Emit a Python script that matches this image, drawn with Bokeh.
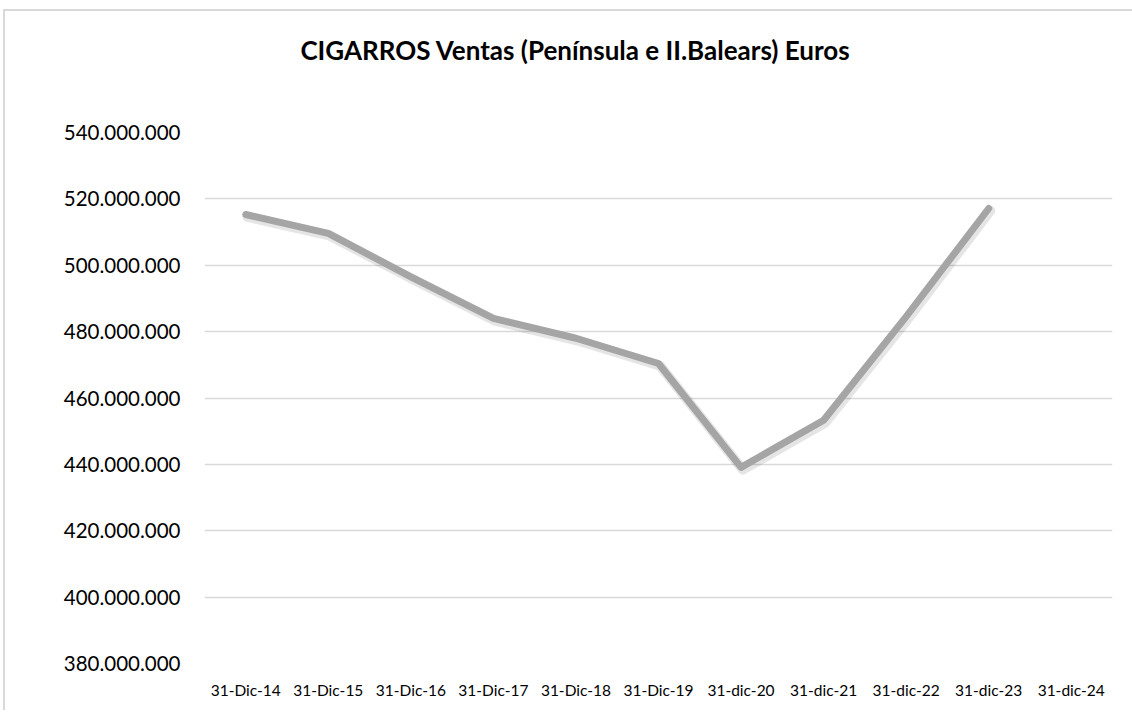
from bokeh.plotting import figure
from bokeh.models import FixedTicker, Range1d, FactorRange, ColumnDataSource, Div
from bokeh.layouts import column
from bokeh.transform import dodge
from bokeh.embed import file_html
from bokeh.resources import INLINE
import math

# ---- data ----
categories = ["31-Dic-14", "31-Dic-15", "31-Dic-16", "31-Dic-17", "31-Dic-18",
              "31-Dic-19", "31-dic-20", "31-dic-21", "31-dic-22", "31-dic-23",
              "31-dic-24"]
ventas = [515.3e6, 509.6e6, 496.5e6, 484.0e6, 478.0e6,
          470.4e6, 439.1e6, 453.3e6, 484.5e6, 517.1e6, math.nan]
y_ticks = [380e6, 400e6, 420e6, 440e6, 460e6, 480e6, 500e6, 520e6, 540e6]
y_tick_labels = ["380.000.000", "400.000.000", "420.000.000", "440.000.000",
                 "460.000.000", "480.000.000", "500.000.000", "520.000.000",
                 "540.000.000"]
title_text = "CIGARROS Ventas (Península e II.Balears) Euros"

FONT = "Lato"

title = Div(text=title_text, width=1119, height=91,
            styles={"font-family": FONT, "font-weight": "bold",
                    "font-size": "26px", "line-height": "32px",
                    "color": "#000000", "text-align": "center",
                    "padding-top": "18px", "padding-left": "11px",
                    "box-sizing": "border-box", "background": "white"})

p = figure(width=1119, height=598, output_backend="svg", toolbar_location=None,
           x_range=FactorRange(*categories), y_range=Range1d(380e6, 540e6),
           min_border_left=199, min_border_right=12, min_border_top=20,
           min_border_bottom=47)
p.outline_line_color = None
p.background_fill_color = "white"
p.border_fill_color = "white"

# grid
p.xgrid.grid_line_color = None
p.ygrid.grid_line_color = "#d9d9d9"
p.ygrid.grid_line_width = 1.5
p.yaxis.ticker = FixedTicker(ticks=y_ticks)
p.yaxis.major_label_overrides = {t: l for t, l in zip(y_ticks, y_tick_labels)}

for ax in (p.xaxis, p.yaxis):
    ax.axis_line_color = None
    ax.major_tick_line_color = None
    ax.minor_tick_line_color = None
    ax.major_tick_out = 0
    ax.major_tick_in = 0
    ax.major_label_text_font = FONT
    ax.major_label_text_color = "#000000"

p.yaxis.major_label_text_font_size = "20.5px"
p.yaxis.major_label_standoff = 24
p.xaxis.major_label_text_font_size = "15.5px"
p.xaxis.major_label_standoff = 17

src = ColumnDataSource(dict(x=categories, y=ventas,
                            ys=[v - 0.7e6 for v in ventas]))
# soft shadow
p.line(x=dodge("x", 0.02, range=p.x_range), y="ys", source=src,
       line_color="#000000", line_alpha=0.10, line_width=10,
       line_cap="round", line_join="round")
p.line(x="x", y="y", source=src, line_color="#a5a5a5", line_width=7,
       line_cap="round", line_join="round")

layout = column(title, p, spacing=0,
                styles={"border-top": "2px solid #d9d9d9",
                        "border-left": "2px solid #d9d9d9",
                        "margin-left": "3px", "margin-top": "9px",
                        "background": "white"})

open("out.html", "w").write(file_html(layout, INLINE))
